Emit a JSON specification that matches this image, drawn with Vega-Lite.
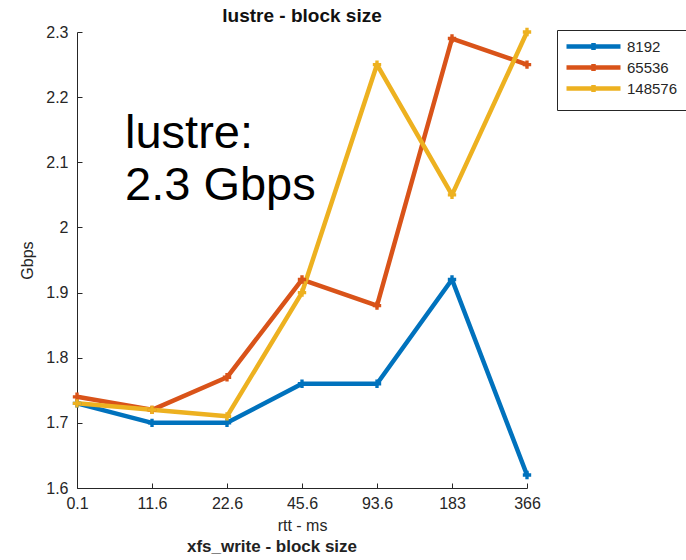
{
  "$schema": "https://vega.github.io/schema/vega-lite/v6.json",
  "autosize": {"type": "none"},
  "width": 450,
  "height": 456,
  "padding": {"left": 77, "top": 32, "right": 159, "bottom": 72},
  "background": "white",
  "config": {
    "font": "Liberation Sans",
    "view": {"stroke": null},
    "axis": {
      "domainColor": "#262626",
      "tickColor": "#262626",
      "labelColor": "#262626",
      "titleColor": "#262626",
      "labelFont": "Liberation Sans",
      "titleFont": "Liberation Sans",
      "labelFontSize": 16,
      "titleFontSize": 16,
      "titleFontWeight": "normal",
      "grid": false,
      "domainWidth": 1,
      "tickWidth": 1
    }
  },
  "title": {
    "text": "lustre - block size",
    "font": "Liberation Sans",
    "fontSize": 19,
    "fontWeight": "bold",
    "color": "#111111",
    "anchor": "middle",
    "baseline": "alphabetic",
    "offset": -17
  },
  "data": {
    "values": [
      {"rtt": "0.1", "size": "8192", "gbps": 1.73},
      {"rtt": "11.6", "size": "8192", "gbps": 1.70},
      {"rtt": "22.6", "size": "8192", "gbps": 1.70},
      {"rtt": "45.6", "size": "8192", "gbps": 1.76},
      {"rtt": "93.6", "size": "8192", "gbps": 1.76},
      {"rtt": "183", "size": "8192", "gbps": 1.92},
      {"rtt": "366", "size": "8192", "gbps": 1.62},
      {"rtt": "0.1", "size": "65536", "gbps": 1.74},
      {"rtt": "11.6", "size": "65536", "gbps": 1.72},
      {"rtt": "22.6", "size": "65536", "gbps": 1.77},
      {"rtt": "45.6", "size": "65536", "gbps": 1.92},
      {"rtt": "93.6", "size": "65536", "gbps": 1.88},
      {"rtt": "183", "size": "65536", "gbps": 2.29},
      {"rtt": "366", "size": "65536", "gbps": 2.25},
      {"rtt": "0.1", "size": "148576", "gbps": 1.73},
      {"rtt": "11.6", "size": "148576", "gbps": 1.72},
      {"rtt": "22.6", "size": "148576", "gbps": 1.71},
      {"rtt": "45.6", "size": "148576", "gbps": 1.90},
      {"rtt": "93.6", "size": "148576", "gbps": 2.25},
      {"rtt": "183", "size": "148576", "gbps": 2.05},
      {"rtt": "366", "size": "148576", "gbps": 2.30}
    ]
  },
  "layer": [
    {
      "mark": {"type": "line", "strokeWidth": 4.5, "strokeJoin": "round"},
      "encoding": {
        "x": {
          "field": "rtt",
          "type": "ordinal",
          "sort": null,
          "scale": {"type": "point", "padding": 0},
          "axis": {
            "title": "rtt - ms",
            "labelAngle": 0,
            "tickSize": -5,
            "labelPadding": 12,
            "titlePadding": 6
          }
        },
        "y": {
          "field": "gbps",
          "type": "quantitative",
          "scale": {"domain": [1.6, 2.3], "nice": false, "zero": false},
          "axis": {
            "title": "Gbps",
            "values": [1.6, 1.7, 1.8, 1.9, 2.0, 2.1, 2.2, 2.3],
            "format": ".1~f",
            "tickSize": -5,
            "labelPadding": 14,
            "titlePadding": 10
          }
        },
        "color": {
          "field": "size",
          "type": "nominal",
          "sort": ["8192", "65536", "148576"],
          "scale": {"domain": ["8192", "65536", "148576"], "range": ["#0072BD", "#D95319", "#EDB120"]},
          "legend": {
            "title": null,
            "orient": "none",
            "legendX": 480,
            "legendY": -2,
            "direction": "vertical",
            "strokeColor": "#262626",
            "fillColor": "white",
            "padding": 9,
            "symbolType": "M-5.4,0L5.4,0M0,-0.7L0,0.7M-0.7,0L0.7,0",
            "symbolSize": 100,
            "symbolStrokeWidth": 4.5,
            "symbolOffset": 20,
            "labelOffset": 26,
            "labelFontSize": 15,
            "labelFont": "Liberation Sans",
            "labelColor": "#262626",
            "labelBaseline": "middle",
            "rowPadding": -4
          }
        }
      }
    },
    {
      "mark": {"type": "point", "shape": "cross", "filled": true, "size": 70, "opacity": 1},
      "encoding": {
        "x": {"field": "rtt", "type": "ordinal", "sort": null},
        "y": {"field": "gbps", "type": "quantitative"},
        "fill": {"field": "size", "type": "nominal", "legend": null, "scale": {"domain": ["8192", "65536", "148576"], "range": ["#0072BD", "#D95319", "#EDB120"]}}
      }
    },
    {
      "data": {"values": [{"note": "lustre:"}, {"note": "2.3 Gbps"}]},
      "transform": [{"window": [{"op": "row_number", "as": "line"}]}],
      "mark": {
        "type": "text",
        "align": "left",
        "baseline": "alphabetic",
        "fontSize": 47,
        "dx": 48,
        "fill": "black",
        "font": "Liberation Sans"
      },
      "encoding": {
        "x": {"datum": "0.1"},
        "y": {"datum": 2.122},
        "yOffset": {"field": "line", "type": "ordinal", "scale": {"type": "point", "range": [0, 52], "padding": 0}},
        "text": {"field": "note"}
      }
    },
    {
      "data": {"values": [{"caption": "xfs_write - block size"}]},
      "mark": {
        "type": "text",
        "align": "center",
        "baseline": "alphabetic",
        "fontSize": 17,
        "fontWeight": "bold",
        "dy": 64,
        "dx": -30,
        "fill": "#222222",
        "font": "Liberation Sans"
      },
      "encoding": {
        "x": {"datum": "45.6"},
        "y": {"datum": 1.6},
        "text": {"field": "caption"}
      }
    }
  ]
}
